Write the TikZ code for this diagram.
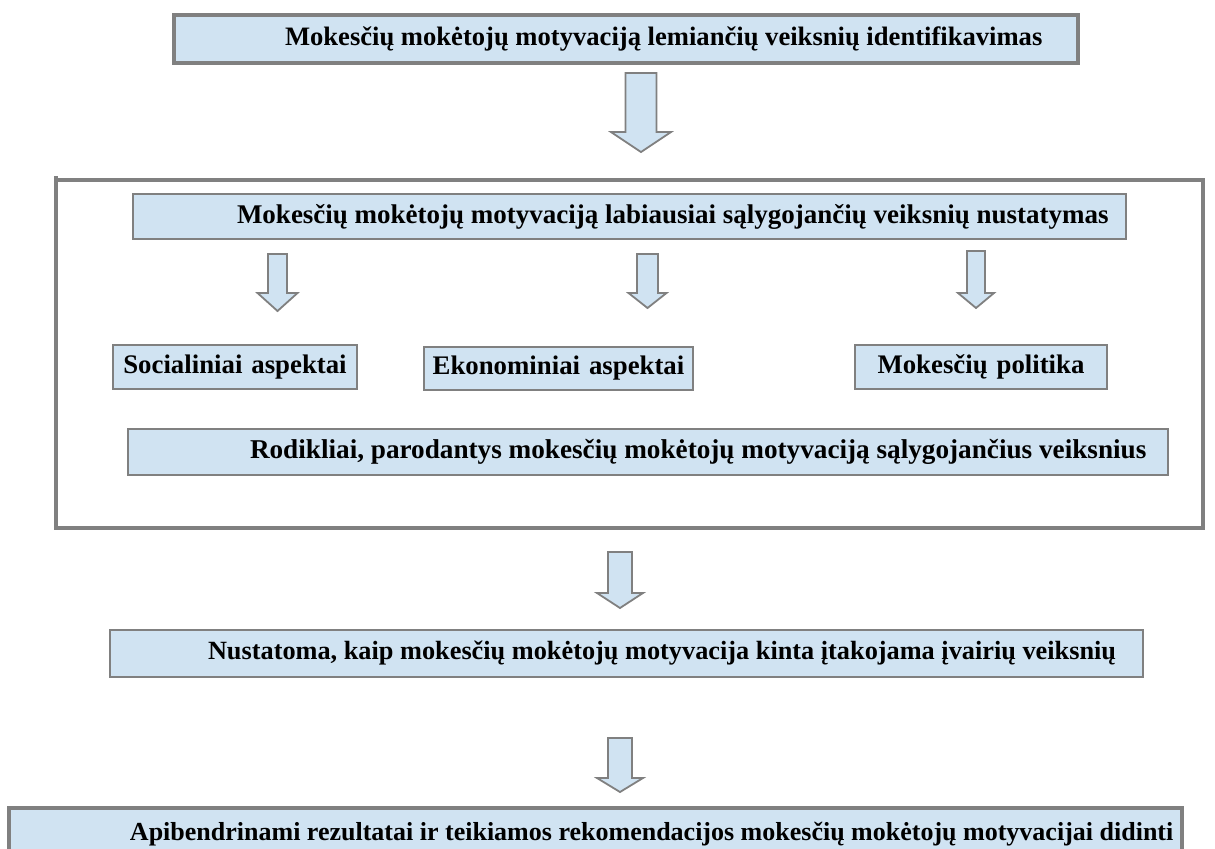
\documentclass[tikz,border=0pt]{standalone}
\usepackage{fontspec}
\setmainfont{Liberation Serif}
\definecolor{boxfill}{RGB}{208,227,242}
\definecolor{boxline}{RGB}{128,128,128}
\newcommand{\bdarrow}[6]{%
  \draw[barrow] (#1-#4,#2) -- (#1+#4,#2) -- (#1+#4,#3) -- (#1+#5,#3) -- (#1,#6) -- (#1-#5,#3) -- (#1-#4,#3) -- cycle;}
\newcommand{\lbtext}[3]{\makebox[#1][l]{\hspace*{#2}#3}}
\begin{document}
\begin{tikzpicture}[x=0.5pt,y=-0.5pt,
  box/.style={draw=boxline, fill=boxfill, line width=1.1pt, inner xsep=0pt, inner ysep=0pt,
    font=\fontsize{13.3}{15}\selectfont\bfseries, anchor=center},
  cbox/.style={box, align=center, font=\fontsize{13.4}{15}\selectfont\bfseries},
  barrow/.style={draw=boxline, fill=boxfill, line width=0.9pt, line join=miter},
  frame/.style={draw=boxline, line width=1.6pt}]
\useasboundingbox (0,0) rectangle (1215,848);
% frame
\draw[frame] (56,176) -- (56,528) -- (1203,528) -- (1203,180) -- (56,180);
% boxes
\node[box, line width=1.9pt, minimum height=24pt] (b1) at (626,39)
  {\lbtext{452pt}{55.5pt}{Mokesčių mokėtojų motyvaciją lemiančių veiksnių identifikavimas}};
\node[box, minimum height=22.5pt, font=\fontsize{13.5}{15}\selectfont\bfseries] (b2) at (629.5,216.5)
  {\lbtext{496.5pt}{52pt}{Mokesčių mokėtojų motyvaciją labiausiai sąlygojančių veiksnių nustatymas}};
\node[cbox, minimum width=122pt, text width=122pt, minimum height=22pt] (soc) at (235,367) {Socialiniai aspektai};
\node[cbox, minimum width=134.5pt, text width=134.5pt, minimum height=21.5pt] (eko) at (558.5,368.5) {Ekonominiai aspektai};
\node[cbox, minimum width=126pt, text width=126pt, minimum height=22pt] (pol) at (981,367) {Mokesčių politika};
\node[box, minimum height=23pt, font=\fontsize{13.6}{15}\selectfont\bfseries] (rod) at (648,452)
  {\lbtext{520pt}{61pt}{Rodikliai, parodantys mokesčių mokėtojų motyvaciją sąlygojančius veiksnius}};
\node[box, minimum height=23.5pt, font=\fontsize{13.15}{15}\selectfont\bfseries] (nus) at (626.5,653.5)
  {\lbtext{516.5pt}{49pt}{Nustatoma, kaip mokesčių mokėtojų motyvacija kinta įtakojama įvairių veiksnių}};
\node[box, line width=1.9pt, minimum height=26pt, font=\fontsize{13}{15}\selectfont\bfseries] (api) at (595.5,834)
  {\lbtext{586.5pt}{60.5pt}{Apibendrinami rezultatai ir teikiamos rekomendacijos mokesčių mokėtojų motyvacijai didinti}};
% block arrows
\bdarrow{641}{73}{132}{15.5}{30}{152}
\bdarrow{277.5}{254}{293}{9.5}{20}{311}
\bdarrow{647.5}{254}{293}{10.5}{19}{308}
\bdarrow{976}{251}{293}{9}{18}{308}
\bdarrow{620}{552}{593}{12}{23}{608}
\bdarrow{620}{738}{778}{12}{23}{792}
\end{tikzpicture}
\end{document}
